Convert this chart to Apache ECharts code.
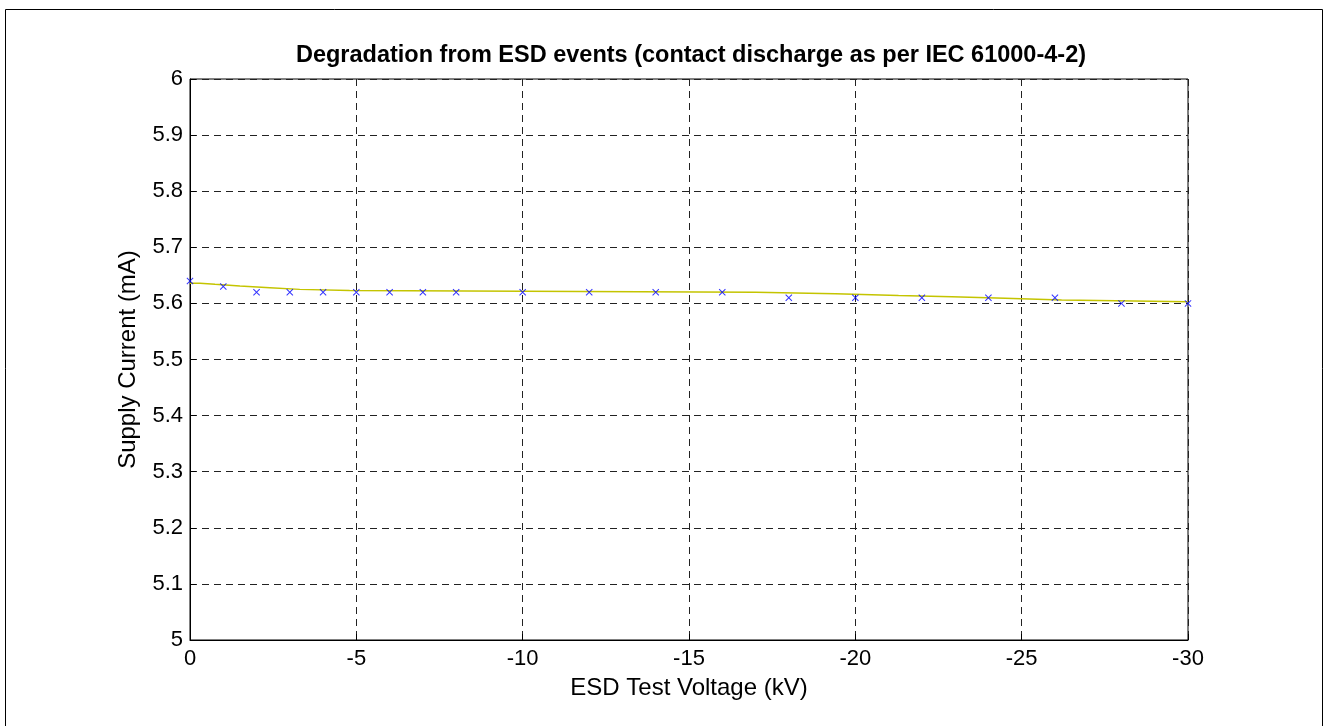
<!DOCTYPE html>
<html>
<head>
<meta charset="utf-8">
<script src="https://cdn.jsdelivr.net/npm/echarts@6/dist/echarts.min.js"></script>
<style>
html,body{margin:0;padding:0;background:#fff;}
#chart{width:1329px;height:726px;}
</style>
</head>
<body>
<div id="chart"></div>
<script>
// Measured points (blue x markers)
var voltages = [0, -1, -2, -3, -4, -5, -6, -7, -8, -10, -12, -14, -16, -18, -20, -22, -24, -26, -28, -30];
var currents = [5.64, 5.63, 5.62, 5.62, 5.62, 5.62, 5.62, 5.62, 5.62, 5.62, 5.62, 5.62, 5.62, 5.61, 5.61, 5.61, 5.61, 5.61, 5.60, 5.60];
// Fitted (stepped) trend line (yellow)
var fitX = [0, -0.3, -0.75, -1.5, -2.4, -3.3, -4.8, -17, -19.4, -21.3, -22.9, -24.5, -26.2, -30];
var fitY = [5.636, 5.634, 5.631, 5.628, 5.625, 5.623, 5.620, 5.617, 5.614, 5.612, 5.609, 5.606, 5.603, 5.603];

var titleText = 'Degradation from ESD events (contact discharge as per IEC 61000-4-2)';
var xName = 'ESD Test Voltage (kV)';
var yName = 'Supply Current (mA)';

var chart = echarts.init(document.getElementById('chart'), null, {renderer: 'canvas'});
var font = 'Liberation Sans, Arial, Helvetica, sans-serif';
var pts = voltages.map(function (v, i) { return [v, currents[i]]; });
var fit = fitX.map(function (v, i) { return [v, fitY[i]]; });
var xMark = 'path://M0,1L1,0L5,4L9,0L10,1L6,5L10,9L9,10L5,6L1,10L0,9L4,5Z';

chart.setOption({
  animation: false,
  backgroundColor: '#fff',
  title: {
    text: titleText,
    left: 686,
    top: 39,
    textAlign: 'center',
    textStyle: {fontFamily: font, fontSize: 23.5, fontWeight: 'bold', color: '#000'}
  },
  graphic: [{
    type: 'rect',
    shape: {x: 5.5, y: 9.5, width: 1317, height: 740},
    style: {fill: 'none', stroke: '#000', lineWidth: 1},
    silent: true
  }],
  grid: {left: 190, right: 141, top: 79, bottom: 86, show: true, borderColor: '#000', borderWidth: 1, backgroundColor: '#fff'},
  xAxis: {
    type: 'value', inverse: true, min: -30, max: 0, interval: 5,
    name: xName, nameLocation: 'middle', nameGap: 36,
    nameTextStyle: {fontFamily: font, fontSize: 24, color: '#000'},
    axisLine: {show: true, lineStyle: {color: '#000', width: 1}},
    axisTick: {show: true, inside: true, length: 6, lineStyle: {color: '#000'}},
    axisLabel: {fontFamily: font, fontSize: 22, color: '#000', margin: 8},
    splitLine: {show: true, lineStyle: {color: '#222', width: 1, type: [7, 5]}}
  },
  yAxis: {
    type: 'value', min: 5, max: 6, interval: 0.1,
    name: yName, nameLocation: 'middle', nameGap: 50, nameRotate: 90,
    nameTextStyle: {fontFamily: font, fontSize: 24, color: '#000'},
    axisLine: {show: true, lineStyle: {color: '#000', width: 1}},
    axisTick: {show: true, inside: true, length: 6, lineStyle: {color: '#000'}},
    axisLabel: {fontFamily: font, fontSize: 22, color: '#000', margin: 7,
      formatter: function (v) { return String(Math.round(v * 10) / 10); }},
    splitLine: {show: true, lineStyle: {color: '#222', width: 1, type: [7, 5]}}
  },
  series: [
    {
      type: 'line', data: fit, step: 'end', showSymbol: false, symbol: 'none',
      lineStyle: {color: '#c4c400', width: 1.5}, z: 3, silent: true
    },
    {
      type: 'scatter', data: pts, symbol: xMark, symbolSize: 7,
      itemStyle: {color: '#0000ff'}, z: 4, silent: true
    }
  ]
});
</script>
</body>
</html>
